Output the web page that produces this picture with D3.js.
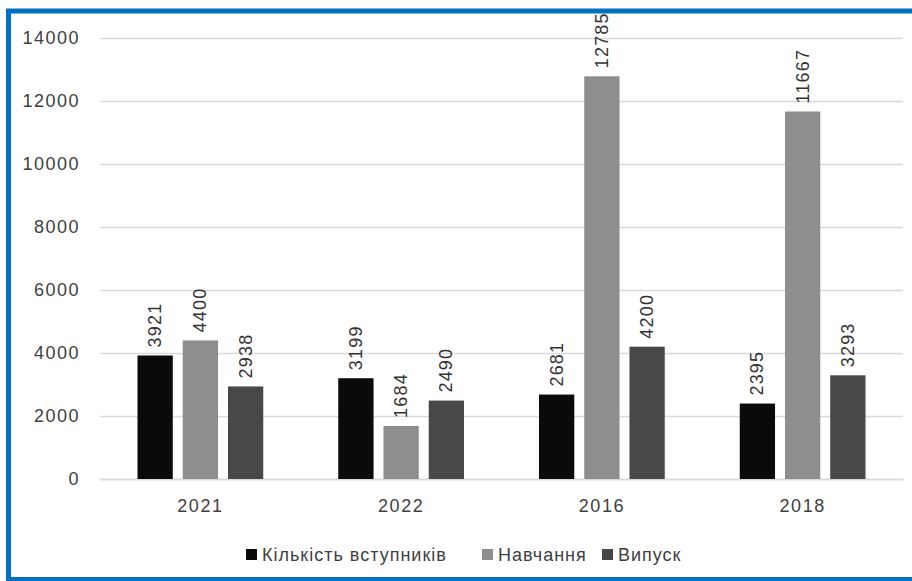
<!DOCTYPE html>
<html><head><meta charset="utf-8">
<script src="https://cdn.jsdelivr.net/npm/d3@7"></script>
<style>body{margin:0;background:#fff;} svg{display:block;}</style>
</head><body>
<svg id="c" width="912" height="581"></svg>
<script>
const categories = ["2021", "2022", "2016", "2018"];
const seriesNames = ["Кількість вступників", "Навчання", "Випуск"];
const admissions = [3921, 3199, 2681, 2395];
const studying = [4400, 1684, 12785, 11667];
const graduates = [2938, 2490, 4200, 3293];
const yTicks = [0, 2000, 4000, 6000, 8000, 10000, 12000, 14000];
const colors = ["#0a0a0a", "#8e8e8e", "#484848"];

const series = [admissions, studying, graduates];
const svg = d3.select("#c");
const font = "'Liberation Sans', Arial, sans-serif";

// frame
svg.append("rect").attr("x", 8.5).attr("y", 11).attr("width", 940).attr("height", 568.5)
  .attr("fill", "#fff").attr("stroke", "#0070c0").attr("stroke-width", 5);

const x0 = d3.scaleBand().domain(categories).range([100, 903]).paddingInner(0).paddingOuter(0);
const x1 = d3.scaleBand().domain(d3.range(3)).range([37.5, x0.bandwidth() - 37.5]).paddingInner(0.22).paddingOuter(0);
const y = d3.scaleLinear().domain([0, 14000]).range([479, 38]);

// grid
const yAxis = d3.axisLeft(y).tickValues(yTicks).tickSize(-803).tickPadding(20).tickFormat(d3.format("d"));
const ga = svg.append("g").attr("transform", "translate(100,0)").call(yAxis);
ga.select(".domain").remove();
ga.selectAll(".tick line").attr("stroke", "#d9d9d9").attr("stroke-width", 1.5);
ga.selectAll(".tick text").attr("font-family", font).attr("font-size", 18)
  .attr("letter-spacing", 1.5).attr("fill", "#404040");

// x axis
const xAxis = d3.axisBottom(x0).tickSize(0).tickPadding(20);
const gx = svg.append("g").attr("transform", "translate(0,479)").call(xAxis);
gx.select(".domain").attr("stroke", "#d9d9d9").attr("stroke-width", 1.5);
gx.selectAll(".tick text").attr("font-family", font).attr("font-size", 18)
  .attr("letter-spacing", 1.5).attr("fill", "#404040");

// bars
const groups = svg.append("g").selectAll("g").data(categories).join("g")
  .attr("transform", d => `translate(${x0(d)},0)`);
groups.each(function(cat, ci) {
  const g = d3.select(this);
  series.forEach((vals, si) => {
    const v = vals[ci];
    g.append("rect").attr("x", x1(si)).attr("y", y(v)).attr("width", x1.bandwidth())
      .attr("height", y(0) - y(v)).attr("fill", colors[si]);
    const cx = x1(si) + x1.bandwidth() / 2;
    g.append("text").attr("transform", `translate(${cx + 6},${y(v) - 8}) rotate(-90)`)
      .attr("font-family", font).attr("font-size", 18).attr("letter-spacing", 1.2)
      .attr("fill", "#333").attr("text-anchor", "start").text(v);
  });
});

// legend
const legendX = [246, 482, 602];
const lg = svg.append("g");
seriesNames.forEach((name, i) => {
  lg.append("rect").attr("x", legendX[i]).attr("y", 549).attr("width", 11).attr("height", 11).attr("fill", colors[i]);
  lg.append("text").attr("x", legendX[i] + 16).attr("y", 561).attr("font-family", font)
    .attr("font-size", 18).attr("letter-spacing", 1).attr("fill", "#404040").text(name);
});
</script>
</body></html>
